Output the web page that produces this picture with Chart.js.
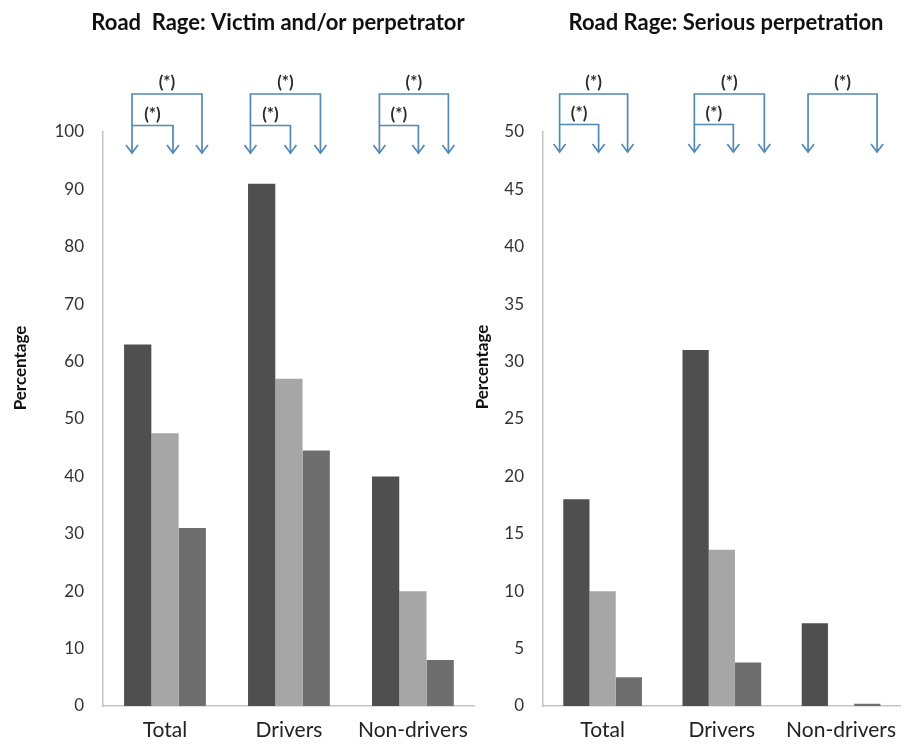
<!DOCTYPE html>
<html>
<head>
<meta charset="utf-8">
<title>Road Rage</title>
<script src="https://cdn.jsdelivr.net/npm/chart.js@4.4.1/dist/chart.umd.min.js"></script>
<style>
  html, body { margin: 0; padding: 0; background: #fff; overflow: hidden; width: 905px; height: 746px; }
  #wrap { position: relative; width: 905px; height: 746px; }
  canvas { position: absolute; top: 0; }
  #c1 { left: 0; }
  #c2 { left: 460px; }
</style>
</head>
<body>
<div id="wrap">
  <canvas id="c1" width="480" height="746"></canvas>
  <canvas id="c2" width="448" height="746"></canvas>
</div>
<script>
// Groups on the x axis
const categories = ['Total', 'Drivers', 'Non-drivers'];

// Victim and/or perpetrator (%)
const victimSeries1 = [63, 91, 40];
const victimSeries2 = [47.5, 57, 20];
const victimSeries3 = [31, 44.5, 8];

// Serious perpetration (%)
const seriousSeries1 = [18, 31, 7.2];
const seriousSeries2 = [10, 13.6, 0];
const seriousSeries3 = [2.5, 3.8, 0.2];

// Value axis ticks
const victimTicks = { min: 0, max: 100, step: 10 };
const seriousTicks = { min: 0, max: 50, step: 5 };

const barColors = ['#4f4f4f', '#a6a6a6', '#6e6e6e'];
const axisColor = '#c4c4c4';
const bracketColor = '#5289b5';

// Panel heading and rotated axis caption
const panelText = {
  id: 'panelText',
  afterDraw(chart, args, o) {
    const ctx = chart.ctx;
    ctx.save();
    ctx.fillStyle = '#111';
    ctx.textAlign = 'center';
    ctx.textBaseline = 'middle';
    ctx.font = 'bold 22px Lato';
    ctx.fillText(o.title, o.titleX, o.titleY);
    ctx.translate(o.axisX, o.axisY);
    ctx.rotate(-Math.PI / 2);
    ctx.font = 'bold 17px Lato';
    ctx.fillText(o.axisLabel, 0, 0);
    ctx.restore();
  }
};

// Significance brackets with arrows pointing down at the bars
const sigBrackets = {
  id: 'sigBrackets',
  afterDatasetsDraw(chart, args, o) {
    const ctx = chart.ctx;
    const xs = chart.scales.x;
    const top = chart.chartArea.top;
    const yOuter = top + o.outerY, yInner = top + o.innerY, yTip = top + o.tipY;
    ctx.save();
    ctx.strokeStyle = bracketColor;
    ctx.lineWidth = 1.7;
    ctx.lineJoin = 'miter';
    const head = (px) => {
      ctx.beginPath();
      ctx.moveTo(px - 6, yTip - 8);
      ctx.lineTo(px, yTip);
      ctx.lineTo(px + 6, yTip - 8);
      ctx.stroke();
    };
    const star = (px, py) => {
      ctx.fillStyle = '#2a2a2a';
      ctx.font = 'bold 17px Lato';
      ctx.textAlign = 'center';
      ctx.textBaseline = 'middle';
      ctx.fillText('(*)', px, py);
    };
    o.groups.forEach(g => {
      const c = xs.getPixelForValue(g.index);
      const L = c + g.left, R = c + g.right;
      ctx.beginPath();
      ctx.moveTo(L, yTip);
      ctx.lineTo(L, yOuter);
      ctx.lineTo(R, yOuter);
      ctx.lineTo(R, yTip);
      ctx.stroke();
      head(L); head(R);
      star((L + R) / 2, yOuter - 11);
      if (g.mid !== null) {
        const M = c + g.mid;
        ctx.beginPath();
        ctx.moveTo(L, yInner);
        ctx.lineTo(M, yInner);
        ctx.lineTo(M, yTip);
        ctx.stroke();
        head(M);
        star((L + M) / 2, yInner - 11);
      }
    });
    ctx.restore();
  }
};

function makeChart(id, series, ticks, axisWidth, padRight, text, brackets) {
  return new Chart(document.getElementById(id), {
    type: 'bar',
    data: {
      labels: categories,
      datasets: series.map((d, i) => ({
        label: 'Series ' + (i + 1),
        data: d,
        backgroundColor: barColors[i],
        borderWidth: 0,
        categoryPercentage: 0.66,
        barPercentage: 1.0
      }))
    },
    options: {
      responsive: false,
      animation: false,
      layout: { padding: { top: 132, left: 0, right: padRight, bottom: 0 } },
      plugins: {
        legend: { display: false },
        tooltip: { enabled: false },
        title: { display: false },
        panelText: text,
        sigBrackets: brackets
      },
      scales: {
        x: {
          grid: { display: false, drawTicks: false },
          border: { display: true, color: axisColor, width: 1.5 },
          ticks: { padding: 12, color: '#222', font: { family: 'Lato', size: 21 } },
          afterFit(s) { s.height = 40; }
        },
        y: {
          min: ticks.min,
          max: ticks.max,
          grid: { display: false, drawTicks: false },
          border: { display: true, color: axisColor, width: 1.5 },
          ticks: { stepSize: ticks.step, padding: 19, color: '#333', font: { family: 'Lato', size: 17 } },
          afterFit(s) { s.width = axisWidth; }
        }
      }
    },
    plugins: [panelText, sigBrackets]
  });
}

makeChart('c1', [victimSeries1, victimSeries2, victimSeries3], victimTicks, 103, 1,
  { title: 'Road  Rage: Victim and/or perpetrator', titleX: 278, titleY: 23, axisLabel: 'Percentage', axisX: 21, axisY: 368 },
  { outerY: -38, innerY: -6.5, tipY: 21, groups: [
    { index: 0, left: -33, mid: 8, right: 37 },
    { index: 1, left: -38.5, mid: 1.5, right: 31.5 },
    { index: 2, left: -33.5, mid: 5.5, right: 35.5 }
  ] });

makeChart('c2', [seriousSeries1, seriousSeries2, seriousSeries3], seriousTicks, 83, 0,
  { title: 'Road Rage: Serious perpetration', titleX: 266, titleY: 23, axisLabel: 'Percentage', axisX: 23, axisY: 367 },
  { outerY: -38, innerY: -7.5, tipY: 20, groups: [
    { index: 0, left: -43, mid: -4, right: 25 },
    { index: 1, left: -27.5, mid: 11.5, right: 42.5 },
    { index: 2, left: -33, mid: null, right: 36 }
  ] });
</script>
</body>
</html>
